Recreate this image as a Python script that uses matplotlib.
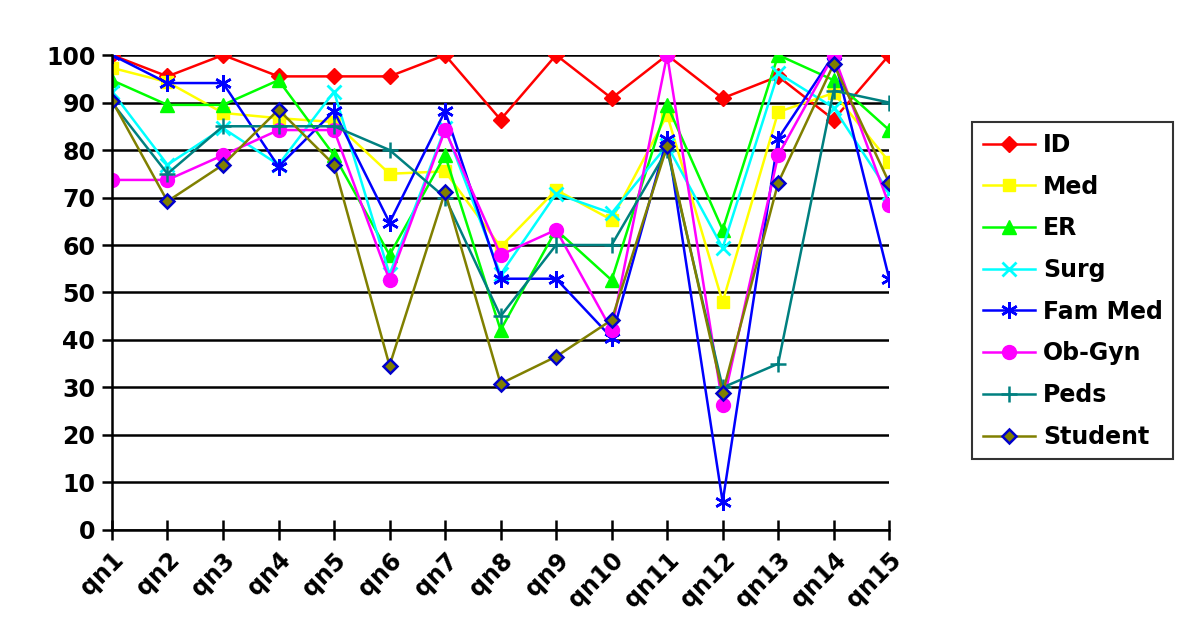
import matplotlib.pyplot as plt

# categories
questions = ['qn1', 'qn2', 'qn3', 'qn4', 'qn5', 'qn6', 'qn7', 'qn8',
             'qn9', 'qn10', 'qn11', 'qn12', 'qn13', 'qn14', 'qn15']

# series values (percent correct)
id_vals = [100, 95.5, 100, 95.5, 95.5, 95.5, 100, 86.4, 100, 90.9, 100, 90.9, 95.5, 86.4, 100]
med_vals = [97.3, 94.3, 87.8, 86.7, 85.9, 75, 75.5, 59.6, 71.6, 65.3, 87.4, 48, 88, 92, 77.5]
er_vals = [94.7, 89.5, 89.5, 94.7, 78.9, 57.9, 78.9, 42.1, 63.2, 52.6, 89.5, 63.2, 100, 94.7, 84.2]
surg_vals = [92.3, 76.9, 84.6, 76.9, 92.3, 53.8, 84.6, 53.8, 70.8, 66.7, 81, 59.4, 96.2, 88.9, 71]
fammed_vals = [100, 94.1, 94.1, 76.5, 88.2, 64.7, 88.2, 52.9, 52.9, 40.5, 82.4, 5.9, 82.4, 100, 52.9]
obgyn_vals = [73.7, 73.7, 78.9, 84.2, 84.2, 52.6, 84.2, 57.9, 63.2, 42.1, 100, 26.3, 78.9, 100, 68.4]
peds_vals = [90, 75, 85, 85, 85, 80, 70, 45, 60, 60, 80, 30, 35, 92.5, 90]
student_vals = [90.4, 69.2, 76.9, 88.5, 76.9, 34.6, 71.2, 30.8, 36.5, 44.2, 80.8, 28.8, 73.1, 98.1, 73.1]

plt.rcParams['font.family'] = ['DejaVu Sans']
plt.rcParams['font.weight'] = 'bold'

fig = plt.figure(figsize=(12, 6.42), dpi=100)
ax = fig.add_axes([0.0933, 0.1745, 0.6477, 0.7398])

x = list(range(len(questions)))
lw = 1.8
ax.plot(x, id_vals, color='#FF0000', lw=lw, marker='D', ms=8, label='ID')
ax.plot(x, med_vals, color='#FFFF00', lw=lw, marker='s', ms=9, label='Med')
ax.plot(x, er_vals, color='#00FF00', lw=lw, marker='^', ms=10, label='ER')
ax.plot(x, surg_vals, color='#00FFFF', lw=lw, marker='x', ms=10, mew=2, label='Surg')
ax.plot(x, fammed_vals, color='#0000FF', lw=lw, marker=(6, 2, 0), ms=12, mew=1.8, label='Fam Med')
ax.plot(x, obgyn_vals, color='#FF00FF', lw=lw, marker='o', ms=10, label='Ob-Gyn')
ax.plot(x, peds_vals, color='#008080', lw=lw, marker='+', ms=12, mew=1.8, label='Peds')
ax.plot(x, student_vals, color='#808000', lw=lw, marker='D', ms=7.5,
        mfc='#808000', mec='#0000CC', mew=1.8, label='Student')

ax.set_xlim(0, 14)
ax.set_ylim(0, 100)
ax.set_yticks(range(0, 101, 10))
ax.set_xticks(x)
ax.set_xticklabels(questions, rotation=45, ha='right', rotation_mode='anchor')
ax.grid(axis='y', color='black', lw=1.8)
ax.set_axisbelow(True)

for s in ['top', 'right']:
    ax.spines[s].set_visible(False)
for s in ['left', 'bottom']:
    ax.spines[s].set_linewidth(1.8)

ax.tick_params(axis='y', direction='out', length=7, width=1.8, labelsize=17, pad=5)
ax.tick_params(axis='x', direction='inout', length=14, width=1.8, labelsize=17, pad=6)

leg = ax.legend(loc='center left', bbox_to_anchor=(0.81, 0.547),
                bbox_transform=fig.transFigure, fontsize=17, frameon=True,
                fancybox=False, edgecolor='black', handlelength=2.2,
                labelspacing=0.75, borderpad=0.45, handletextpad=0.35,
                borderaxespad=0)
leg.get_frame().set_linewidth(1.5)

fig.savefig('out.png', dpi=100)
